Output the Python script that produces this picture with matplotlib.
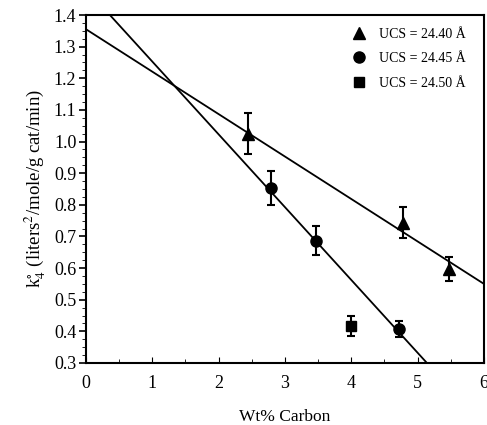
import numpy as np
import matplotlib
matplotlib.use('Agg')
import matplotlib.pyplot as plt
from matplotlib.ticker import MultipleLocator, FormatStrFormatter

plt.rcParams['font.family'] = ['Liberation Serif', 'DejaVu Serif']
plt.rcParams['mathtext.fontset'] = 'stix'

# data
x_440 = [2.44, 4.78, 5.47]
y_440 = [1.025, 0.744, 0.596]
e_440 = [0.065, 0.05, 0.038]

x_445 = [2.79, 3.47, 4.72]
y_445 = [0.852, 0.687, 0.408]
e_445 = [0.054, 0.046, 0.026]

x_450 = [4.0]
y_450 = [0.417]
e_450 = [0.032]

# fitted lines (endpoints)
fit1_x = [0.0, 6.0]
fit1_y = [1.355, 0.55]
fit2_x = [0.36, 5.14]
fit2_y = [1.40, 0.30]

labels = ['UCS = 24.40 Å', 'UCS = 24.45 Å', 'UCS = 24.50 Å']

fig = plt.figure(figsize=(4.87, 4.25), dpi=100)
ax = fig.add_axes([0.1766, 0.1459, 0.8172, 0.8188])

ax.plot(fit1_x, fit1_y, color='black', lw=1.3)
ax.plot(fit2_x, fit2_y, color='black', lw=1.3)

kw = dict(color='black', ls='none', ecolor='black', elinewidth=1.5, capsize=3, capthick=1.5)
ax.errorbar(x_440, y_440, yerr=e_440, marker='^', ms=8, label=labels[0], **kw)
ax.errorbar(x_445, y_445, yerr=e_445, marker='o', ms=8, label=labels[1], **kw)
ax.errorbar(x_450, y_450, yerr=e_450, marker='s', ms=7, label=labels[2], **kw)

ax.set_xlim(0, 6)
ax.set_ylim(0.3, 1.4)
ax.xaxis.set_major_locator(MultipleLocator(1))
ax.xaxis.set_minor_locator(MultipleLocator(0.5))
ax.yaxis.set_major_locator(MultipleLocator(0.1))
ax.yaxis.set_minor_locator(MultipleLocator(0.025))
ax.yaxis.set_major_formatter(FormatStrFormatter('%.1f'))
ax.tick_params(axis='x', which='both', direction='in', labelsize=13, pad=9)
ax.tick_params(axis='x', which='major', length=4)
ax.tick_params(axis='x', which='minor', length=3)
ax.tick_params(axis='y', which='both', direction='out', labelsize=13, pad=2)
ax.tick_params(axis='y', which='major', length=5, width=1.2)
ax.tick_params(axis='y', which='minor', length=3)
for s in ax.spines.values():
    s.set_linewidth(1.5)

ax.set_xlabel('Wt% Carbon', fontsize=12.5, labelpad=12)
ax.set_ylabel(r'k$_4^{\circ}$ (liters$^2$/mole/g cat/min)', fontsize=13.5, labelpad=4)

h, l = ax.get_legend_handles_labels()
h = [x[0] for x in h]
ax.legend(h, l, loc='upper right', frameon=False, fontsize=10, handlelength=1.0,
          handletextpad=0.9, labelspacing=0.85, borderaxespad=0.5,
          bbox_to_anchor=(0.985, 1.0))

fig.savefig('out.png', dpi=100)
